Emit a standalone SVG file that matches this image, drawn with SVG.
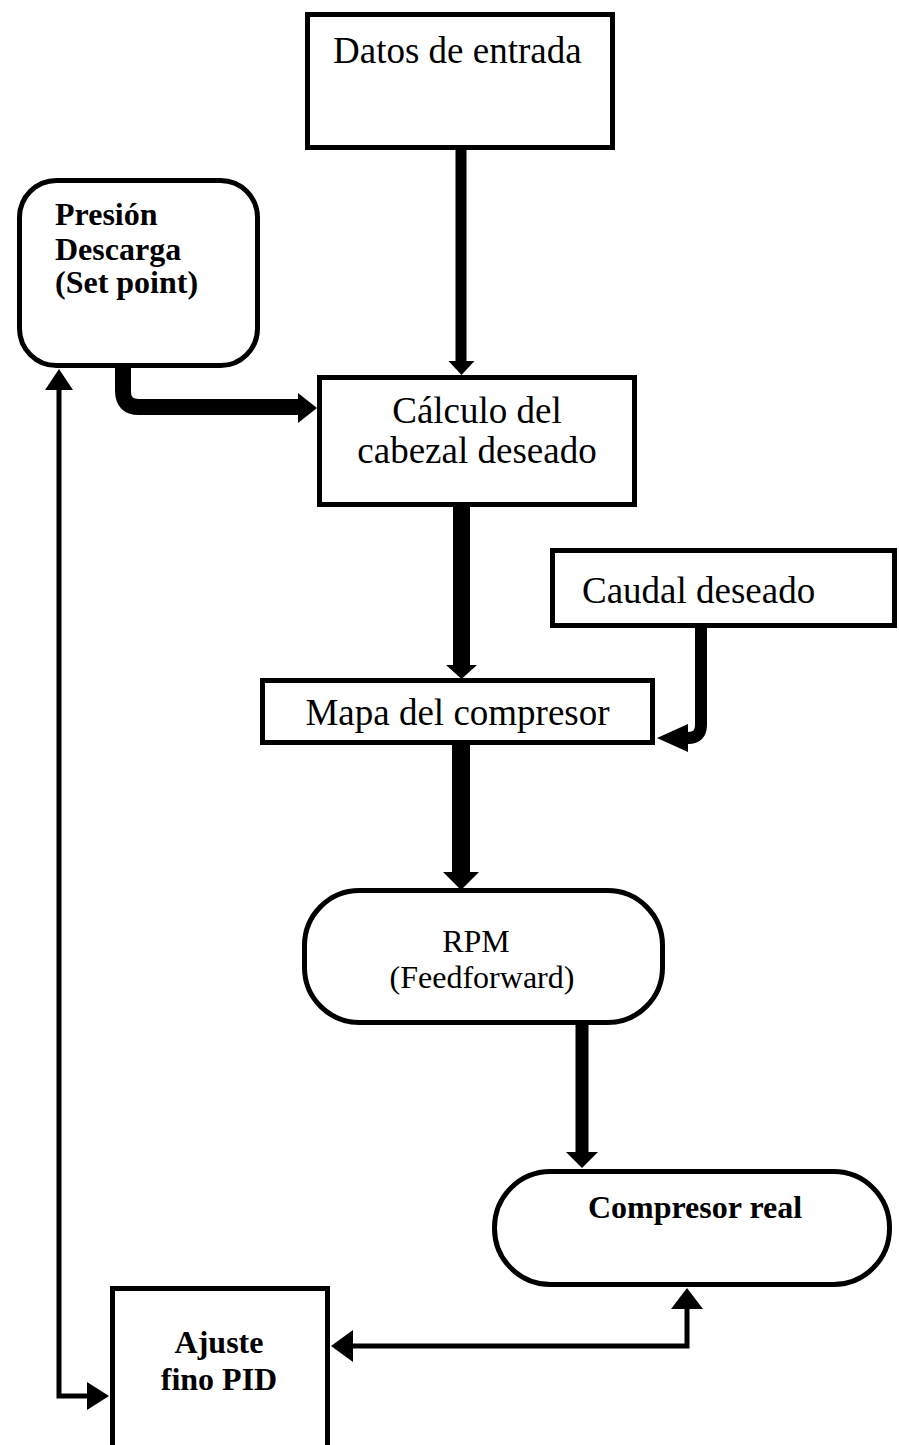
<svg xmlns="http://www.w3.org/2000/svg" width="899" height="1445" viewBox="0 0 899 1445">
<style>
.box{fill:#fff;stroke:#000;stroke-width:5}
.t{font-family:"Liberation Serif","Times New Roman",serif;fill:#000}
.r37{font-size:37px}
.r32{font-size:32px}
.b32{font-size:32px;font-weight:bold}
.ln{fill:none;stroke:#000}
.hd{fill:#000}
</style>
<rect width="899" height="1445" fill="#fff"/>
<g id="connectors">
<line class="ln" x1="461" y1="150" x2="461" y2="362" stroke-width="11"/>
<polygon class="hd" points="448.5,361 474.5,361 461.5,375"/>
<path class="ln" d="M123,368 V391 Q123,407 139,407 H299" stroke-width="16"/>
<polygon class="hd" points="298,393 298,423 317,408"/>
<line class="ln" x1="461.5" y1="507" x2="461.5" y2="666" stroke-width="17"/>
<polygon class="hd" points="446,665 477,665 461.5,679"/>
<path class="ln" d="M701,628 V725 Q701,738 688,738 H684" stroke-width="12"/>
<polygon class="hd" points="688,724 688,752 657,738"/>
<line class="ln" x1="461" y1="745" x2="461" y2="873" stroke-width="18"/>
<polygon class="hd" points="443,872 479,872 461,890"/>
<line class="ln" x1="582" y1="1025" x2="582" y2="1153" stroke-width="13"/>
<polygon class="hd" points="566,1152 598,1152 582,1168"/>
<path class="ln" d="M687,1309 V1346 H352" stroke-width="5"/>
<polygon class="hd" points="671,1309 703,1309 687,1288"/>
<polygon class="hd" points="353,1330 353,1362 331,1346"/>
<path class="ln" d="M59,389 V1396 H88" stroke-width="5"/>
<polygon class="hd" points="45,390 73,390 59,369"/>
<polygon class="hd" points="87,1382 87,1410 109,1396"/>
</g>
<g id="datos">
<rect class="box" x="307.5" y="14.5" width="305" height="133"/>
<text class="t r37" x="333" y="63">Datos de entrada</text>
</g>
<g id="presion">
<rect class="box" x="19.5" y="180.5" width="238" height="185" rx="37"/>
<text class="t b32" x="55" y="225">Presión</text>
<text class="t b32" x="55" y="260">Descarga</text>
<text class="t b32" x="55" y="293">(Set point)</text>
</g>
<g id="calculo">
<rect class="box" x="319.5" y="377.5" width="315" height="127"/>
<text class="t r37" x="477" y="423" text-anchor="middle">Cálculo del</text>
<text class="t r37" x="477" y="463" text-anchor="middle">cabezal deseado</text>
</g>
<g id="caudal">
<rect class="box" x="552.5" y="550.5" width="342" height="75"/>
<text class="t r37" x="582" y="603">Caudal deseado</text>
</g>
<g id="mapa">
<rect class="box" x="262.5" y="680.5" width="390" height="62"/>
<text class="t r37" x="457.5" y="725" text-anchor="middle">Mapa del compresor</text>
</g>
<g id="rpm">
<rect class="box" x="304.5" y="890.5" width="358" height="132" rx="55"/>
<text class="t r32" x="476" y="952" text-anchor="middle">RPM</text>
<text class="t r32" x="482" y="988" text-anchor="middle">(Feedforward)</text>
</g>
<g id="compresor">
<rect class="box" x="494.5" y="1171.5" width="395" height="113" rx="56"/>
<text class="t b32" x="695" y="1218" text-anchor="middle">Compresor real</text>
</g>
<g id="ajuste">
<rect class="box" x="112.5" y="1288.5" width="215" height="200"/>
<text class="t b32" x="219" y="1353" text-anchor="middle">Ajuste</text>
<text class="t b32" x="219" y="1390" text-anchor="middle">fino PID</text>
</g>
</svg>
